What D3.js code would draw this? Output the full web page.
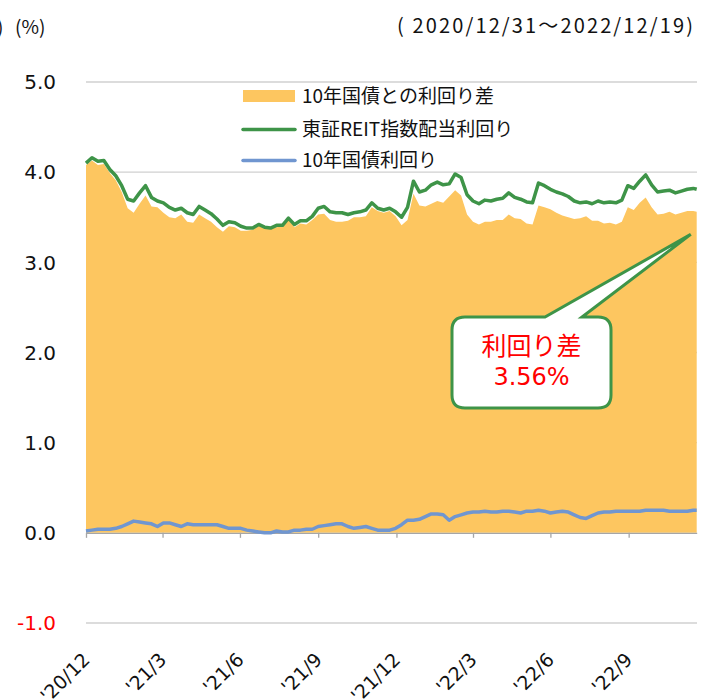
<!DOCTYPE html>
<html><head><meta charset="utf-8">
<script src="https://cdn.jsdelivr.net/npm/d3@7"></script>
<style>
html,body{margin:0;padding:0;background:#fff;}
svg{display:block;}
</style></head>
<body>
<svg id="c" width="709" height="699"></svg>
<script>
// ---- data (weekly readings) ----
const dates = ["2020-12-31","2021-01-07","2021-01-14","2021-01-21","2021-01-28","2021-02-04","2021-02-11","2021-02-18","2021-02-25","2021-03-04",
"2021-03-11","2021-03-18","2021-03-25","2021-04-01","2021-04-08","2021-04-15","2021-04-22","2021-04-29","2021-05-06","2021-05-13",
"2021-05-20","2021-05-27","2021-06-03","2021-06-10","2021-06-17","2021-06-24","2021-07-01","2021-07-08","2021-07-15","2021-07-22",
"2021-07-29","2021-08-05","2021-08-12","2021-08-19","2021-08-26","2021-09-02","2021-09-09","2021-09-16","2021-09-23","2021-09-30",
"2021-10-07","2021-10-14","2021-10-21","2021-10-28","2021-11-04","2021-11-11","2021-11-18","2021-11-25","2021-12-02","2021-12-09",
"2021-12-16","2021-12-23","2021-12-30","2022-01-06","2022-01-13","2022-01-20","2022-01-27","2022-02-03","2022-02-10","2022-02-17",
"2022-02-24","2022-03-03","2022-03-10","2022-03-17","2022-03-24","2022-03-31","2022-04-07","2022-04-14","2022-04-21","2022-04-28",
"2022-05-05","2022-05-12","2022-05-19","2022-05-26","2022-06-02","2022-06-09","2022-06-16","2022-06-23","2022-06-30","2022-07-07",
"2022-07-14","2022-07-21","2022-07-28","2022-08-04","2022-08-11","2022-08-18","2022-08-25","2022-09-01","2022-09-08","2022-09-15",
"2022-09-22","2022-09-29","2022-10-06","2022-10-13","2022-10-20","2022-10-27","2022-11-03","2022-11-10","2022-11-17","2022-11-24",
"2022-12-01","2022-12-08","2022-12-15","2022-12-19"];

// 東証REIT指数配当利回り (%)
const reitYield = [4.10,4.16,4.12,4.13,4.03,3.96,3.85,3.70,3.68,3.77,
3.85,3.72,3.68,3.66,3.61,3.58,3.60,3.55,3.53,3.62,
3.58,3.54,3.48,3.41,3.45,3.44,3.40,3.38,3.38,3.42,
3.39,3.38,3.41,3.41,3.49,3.42,3.46,3.46,3.51,3.60,
3.62,3.56,3.55,3.55,3.53,3.55,3.56,3.58,3.66,3.60,
3.58,3.60,3.56,3.50,3.61,3.90,3.78,3.80,3.86,3.89,
3.86,3.87,3.98,3.94,3.75,3.68,3.65,3.69,3.68,3.70,
3.71,3.77,3.72,3.70,3.67,3.66,3.88,3.85,3.81,3.78,
3.76,3.73,3.68,3.66,3.67,3.65,3.68,3.66,3.67,3.66,
3.69,3.85,3.82,3.90,3.97,3.86,3.78,3.79,3.80,3.77,
3.79,3.81,3.82,3.81];

// 10年国債利回り (%)
const jgbYield = [0.02,0.03,0.04,0.04,0.04,0.05,0.07,0.10,0.13,0.12,
0.11,0.10,0.07,0.11,0.11,0.09,0.07,0.10,0.09,0.09,
0.09,0.09,0.09,0.07,0.05,0.05,0.05,0.03,0.02,0.01,
0.00,0.00,0.02,0.01,0.01,0.03,0.03,0.04,0.04,0.07,
0.08,0.09,0.10,0.10,0.07,0.05,0.06,0.07,0.05,0.03,
0.03,0.03,0.05,0.09,0.14,0.14,0.15,0.18,0.21,0.21,
0.20,0.14,0.18,0.20,0.22,0.23,0.23,0.24,0.23,0.23,
0.24,0.24,0.23,0.22,0.24,0.24,0.25,0.24,0.22,0.23,
0.24,0.23,0.20,0.17,0.16,0.19,0.22,0.23,0.23,0.24,
0.24,0.24,0.24,0.24,0.25,0.25,0.25,0.25,0.24,0.24,
0.24,0.24,0.25,0.25];

const yTicks = [-1,0,1,2,3,4,5];
const xTickDates = ["2020-12-31","2021-03-31","2021-06-30","2021-09-30","2021-12-31","2022-03-31","2022-06-30","2022-09-30"];
const xTickLabels = ["'20/12","'21/3","'21/6","'21/9","'21/12","'22/3","'22/6","'22/9"];
const legendLabels = ["10年国債との利回り差","東証REIT指数配当利回り","10年国債利回り"];
const calloutLines = ["利回り差","3.56%"];
const periodLabel = "( 2020/12/31～2022/12/19)";

// ---- chart ----
const parse = d3.timeParse("%Y-%m-%d");
const data = dates.map((d,i)=>({date:parse(d), reit:reitYield[i], jgb:jgbYield[i], spread:+(reitYield[i]-jgbYield[i]).toFixed(2)}));

const C = {orange:"#FDC660", green:"#3E9448", blue:"#7096D0", grid:"#D0D0D0", axis:"#A6A6A6"};
const numFont = "'DejaVu Sans', Verdana, sans-serif";
const jpFont = "'Noto Sans CJK JP', sans-serif";

const svg = d3.select("#c");
const x = d3.scaleTime().domain([parse("2020-12-31"), parse("2022-12-19")]).range([86, 696.7]);
const y = d3.scaleLinear().domain([-1,5]).range([623, 82]);

// gridlines
svg.append("g").selectAll("line").data(yTicks.filter(v=>v!==0)).join("line")
  .attr("x1",86).attr("x2",697).attr("y1",d=>y(d)).attr("y2",d=>y(d))
  .attr("stroke",C.grid).attr("stroke-width",1.3);

// area (spread)
svg.append("path").datum(data)
  .attr("fill",C.orange)
  .attr("d", d3.area().x(d=>x(d.date)).y0(y(0)).y1(d=>y(d.spread)));

// x axis line at 0
const xAxis = d3.axisBottom(x).tickValues(xTickDates.map(parse)).tickFormat("").tickSize(5).tickSizeOuter(0);
const gx = svg.append("g").attr("transform",`translate(0,${y(0)})`).call(xAxis);
gx.select(".domain").attr("stroke",C.axis).attr("stroke-width",1.3);
gx.selectAll(".tick line").attr("stroke",C.axis).attr("stroke-width",1.3);

// lines
const line = key => d3.line().x(d=>x(d.date)).y(d=>y(d[key]));
svg.append("path").datum(data).attr("fill","none").attr("stroke",C.blue)
  .attr("stroke-width",3.5).attr("stroke-linejoin","round").attr("d",line("jgb"));
svg.append("path").datum(data).attr("fill","none").attr("stroke",C.green)
  .attr("stroke-width",3.5).attr("stroke-linejoin","round").attr("d",line("reit"));

// y labels
svg.append("g").selectAll("text").data(yTicks).join("text")
  .attr("x",56).attr("y",d=>y(d)).attr("dy","0.36em")
  .attr("text-anchor","end").attr("font-family",numFont).attr("font-size",20)
  .attr("fill",d=>d<0?"#FF0000":"#111")
  .text(d=>d.toFixed(1));

// x labels
svg.append("g").selectAll("text").data(xTickDates).join("text")
  .attr("transform",d=>`translate(${x(parse(d))+5},661) rotate(-45)`)
  .attr("text-anchor","end").attr("font-family",numFont).attr("font-size",19)
  .attr("fill","#111")
  .text((d,i)=>xTickLabels[i]);

// unit and period
svg.append("text").attr("x",-3).attr("y",34).attr("font-family",jpFont).attr("font-size",19).attr("fill","#111").text(")");
svg.append("text").attr("x",15).attr("y",34).attr("font-family",jpFont).attr("font-size",19).attr("fill","#111").text("(%)");
svg.append("text").attr("x",397).attr("y",33).attr("font-family",jpFont).attr("font-size",20)
  .attr("textLength",296).attr("lengthAdjust","spacing").attr("fill","#111").text(periodLabel);

// legend
const lg = svg.append("g");
const legendY = [96, 129.5, 160.5];
lg.append("rect").attr("x",243).attr("y",legendY[0]-6).attr("width",52).attr("height",12).attr("fill",C.orange);
lg.append("line").attr("x1",243).attr("x2",295).attr("y1",legendY[1]).attr("y2",legendY[1]).attr("stroke",C.green).attr("stroke-width",3.5).attr("stroke-linecap","round");
lg.append("line").attr("x1",243).attr("x2",295).attr("y1",legendY[2]).attr("y2",legendY[2]).attr("stroke",C.blue).attr("stroke-width",3.5).attr("stroke-linecap","round");
lg.selectAll("text").data(legendLabels).join("text")
  .attr("x",302).attr("y",(d,i)=>legendY[i]).attr("dy","0.36em")
  .attr("font-family",jpFont).attr("font-size",19).attr("fill","#111").text(d=>d);

// callout
const bx0=452, bx1=611, by0=317, by1=408, r=13;
const tipX = x(parse("2022-12-12")), tipY = y(3.31);
const p1=545, p2=582;
const path = `M${bx0+r},${by0} L${p1},${by0} L${tipX},${tipY} L${p2},${by0} L${bx1-r},${by0} Q${bx1},${by0} ${bx1},${by0+r} L${bx1},${by1-r} Q${bx1},${by1} ${bx1-r},${by1} L${bx0+r},${by1} Q${bx0},${by1} ${bx0},${by1-r} L${bx0},${by0+r} Q${bx0},${by0} ${bx0+r},${by0} Z`;
svg.append("path").attr("d",path).attr("fill","#fff").attr("stroke",C.green).attr("stroke-width",3).attr("stroke-linejoin","miter");
svg.append("g").selectAll("text").data(calloutLines).join("text")
  .attr("x",(bx0+bx1)/2).attr("y",(d,i)=>[346,376][i]).attr("dy","0.36em")
  .attr("text-anchor","middle").attr("font-family",(d,i)=>i===0?jpFont:numFont).attr("font-size",(d,i)=>i===0?25:24)
  .attr("fill","#FF0000").text(d=>d);
</script>
</body></html>
